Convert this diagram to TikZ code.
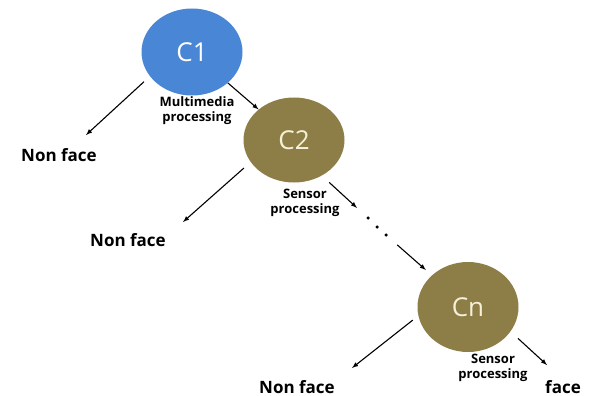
\documentclass[tikz,border=0pt]{standalone}
\usepackage{fontspec}
\setmainfont{Open Sans}
\usetikzlibrary{shapes.geometric, arrows}

\definecolor{cblue}{RGB}{74,134,214}
\definecolor{colive}{RGB}{140,126,70}
\definecolor{ccream}{RGB}{245,240,215}

\begin{document}
\begin{tikzpicture}[x=1pt,y=-1pt,
    stage/.style={ellipse, fill=colive, text=ccream, minimum width=101pt,
        minimum height=85pt, inner sep=0pt, font=\fontsize{26}{26}\selectfont},
    result/.style={font=\bfseries\fontsize{17}{17}\selectfont},
    note/.style={align=center, font=\bfseries\fontsize{13}{15}\selectfont},
    link/.style={-latex, line width=1.1pt}]
    \useasboundingbox (0,0) rectangle (592,396);
    % stages
    \node[stage, fill=cblue, text=white, minimum height=87pt] (c1) at (192,52) {C1};
    \node[stage] (c2) at (294,140) {C2};
    \node[stage, minimum height=90pt] (cn) at (468,307) {Cn};
    % outputs
    \node[result] (nf1) at (59,155) {Non face};
    \node[result] (nf2) at (128,240) {Non face};
    \node[result] (nf3) at (297,387) {Non face};
    \node[result] (face) at (563,387) {face};
    % labels
    \node[note] (lab1) at (197,111) {Multimedia\\processing};
    \node[note] (lab2) at (305,203) {Sensor\\processing};
    \node[note] (lab3) at (493,368) {Sensor\\processing};
    % dots
    \foreach \i/\x/\y in {1/368/218, 2/377/227, 3/386/235}
        \node[circle, fill=black, inner sep=0pt, minimum size=3.5pt] (d\i) at (\x,\y) {};
    % arrow tips
    \coordinate (t1) at (86,135);
    \coordinate (t2) at (183,222);
    \coordinate (t3) at (352,368);
    \coordinate (t4) at (547,365);
    \draw[link, shorten <=8pt] (c1.210) -- (t1);
    \draw[link] (c1) -- (c2);
    \draw[link, shorten <=9pt] (c2.207) -- (t2);
    \draw[link, shorten <=10pt, shorten >=13pt] (c2.-52) -- (d1);
    \draw[link, shorten <=13pt, shorten >=8pt] (d3) -- (cn);
    \draw[link, shorten <=7pt] (cn.190) -- (t3);
    \draw[link, shorten <=10pt] (cn.-30) -- (t4);
\end{tikzpicture}
\end{document}
